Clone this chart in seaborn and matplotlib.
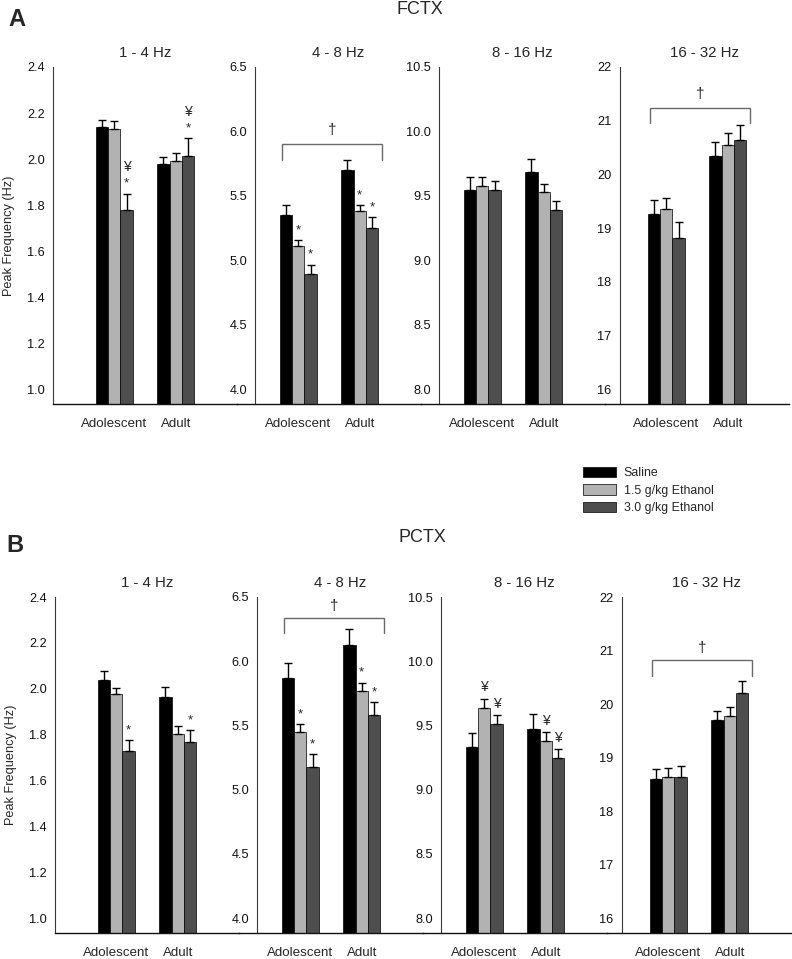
import numpy as np
import pandas as pd
import seaborn as sns
import matplotlib.pyplot as plt
from matplotlib.patches import Patch

# categories
ages = ["Adolescent", "Adult"]
groups = ["Saline", "1.5 g/kg Ethanol", "3.0 g/kg Ethanol"]
bands = ["1 - 4 Hz", "4 - 8 Hz", "8 - 16 Hz", "16 - 32 Hz"]
colors = ["#000000", "#b2b2b2", "#4e4e4e"]

# FCTX means / SEM, rows = age, cols = group
fctx_1_4_mean = [[2.14, 2.13, 1.78], [1.98, 1.99, 2.015]]
fctx_1_4_sem = [[0.03, 0.035, 0.07], [0.028, 0.038, 0.075]]
fctx_4_8_mean = [[5.35, 5.11, 4.89], [5.70, 5.38, 5.25]]
fctx_4_8_sem = [[0.078, 0.05, 0.077], [0.078, 0.05, 0.083]]
fctx_8_16_mean = [[9.545, 9.58, 9.545], [9.685, 9.53, 9.39]]
fctx_8_16_sem = [[0.10, 0.065, 0.067], [0.098, 0.065, 0.067]]
fctx_16_32_mean = [[19.27, 19.36, 18.82], [20.35, 20.55, 20.64]]
fctx_16_32_sem = [[0.256, 0.206, 0.288], [0.256, 0.224, 0.281]]

# PCTX means / SEM
pctx_1_4_mean = [[2.04, 1.977, 1.727], [1.966, 1.803, 1.769]]
pctx_1_4_sem = [[0.038, 0.027, 0.048], [0.043, 0.033, 0.05]]
pctx_4_8_mean = [[5.87, 5.45, 5.18], [6.13, 5.77, 5.58]]
pctx_4_8_sem = [[0.113, 0.062, 0.095], [0.122, 0.064, 0.105]]
pctx_8_16_mean = [[9.335, 9.637, 9.513], [9.475, 9.377, 9.247]]
pctx_8_16_sem = [[0.109, 0.073, 0.068], [0.116, 0.074, 0.07]]
pctx_16_32_mean = [[18.60, 18.635, 18.63], [19.697, 19.778, 20.215]]
pctx_16_32_sem = [[0.181, 0.163, 0.21], [0.174, 0.168, 0.225]]

# y ticks per band
yticks_1_4 = [1.0, 1.2, 1.4, 1.6, 1.8, 2.0, 2.2, 2.4]
yticks_4_8 = [4.0, 4.5, 5.0, 5.5, 6.0, 6.5]
yticks_8_16 = [8.0, 8.5, 9.0, 9.5, 10.0, 10.5]
yticks_16_32 = [16, 17, 18, 19, 20, 21, 22]
ytick_fmt = ["{:.1f}", "{:.1f}", "{:.1f}", "{:.0f}"]

# significance marks: (age index, group index, symbols bottom->top)
fctx_marks = [[(0, 2, "*¥"), (1, 2, "*¥")],
              [(0, 1, "*"), (0, 2, "*"), (1, 1, "*"), (1, 2, "*")],
              [], []]
pctx_marks = [[(0, 2, "*"), (1, 2, "*")],
              [(0, 1, "*"), (0, 2, "*"), (1, 1, "*"), (1, 2, "*")],
              [(0, 1, "¥"), (0, 2, "¥"), (1, 1, "¥"), (1, 2, "¥")],
              []]
# age-effect brackets: (bracket y, drop y, dagger y) or None
fctx_brackets = [None, (5.906, 5.782, 6.01), None, (21.23, 20.95, 21.5)]
pctx_brackets = [None, (6.34, 6.22, 6.43), None, (20.82, 20.53, 21.05)]

sns.set_style("white")
plt.rcParams["font.family"] = ["Liberation Sans", "DejaVu Sans"]

W, H = 792, 959
fig = plt.figure(figsize=(W / 100, H / 100), dpi=100)

rows = [
    dict(name="FCTX", letter="A", top=67, bottom=404, left=53,
         means=[fctx_1_4_mean, fctx_4_8_mean, fctx_8_16_mean, fctx_16_32_mean],
         sems=[fctx_1_4_sem, fctx_4_8_sem, fctx_8_16_sem, fctx_16_32_sem],
         marks=fctx_marks, brackets=fctx_brackets,
         name_xy=(420, 9), letter_xy=(17, 19)),
    dict(name="PCTX", letter="B", top=597, bottom=933, left=55,
         means=[pctx_1_4_mean, pctx_4_8_mean, pctx_8_16_mean, pctx_16_32_mean],
         sems=[pctx_1_4_sem, pctx_4_8_sem, pctx_8_16_sem, pctx_16_32_sem],
         marks=pctx_marks, brackets=pctx_brackets,
         name_xy=(422, 537), letter_xy=(15, 545)),
]
yticks_all = [yticks_1_4, yticks_4_8, yticks_8_16, yticks_16_32]
spine_pos = [-1, -0.7, -0.7, -0.76]
panel_w = 184

for row in rows:
    for k, band in enumerate(bands):
        left = row["left"] + k * panel_w
        ax = fig.add_axes([left / W, 1 - row["bottom"] / H,
                           panel_w / W, (row["bottom"] - row["top"]) / H])
        ax.patch.set_alpha(0)
        means = row["means"][k]
        sems = row["sems"][k]
        df = pd.DataFrame({
            "age": np.repeat(ages, len(groups)),
            "group": groups * len(ages),
            "freq": np.ravel(means),
        })
        sns.barplot(data=df, x="age", y="freq", hue="group", order=ages,
                    hue_order=groups, palette=colors, saturation=1, width=0.6,
                    errorbar=None, edgecolor="black", linewidth=0.5,
                    legend=False, ax=ax)

        # upper-only error bars from the seaborn bar positions
        bar_conts = list(ax.containers)
        centers = {}
        for gi, cont in enumerate(bar_conts):
            for ai, bar in enumerate(cont.patches):
                centers[(ai, gi)] = bar.get_x() + bar.get_width() / 2
        for (ai, gi), x in centers.items():
            ax.errorbar(x, means[ai][gi], yerr=[[0], [sems[ai][gi]]],
                        fmt="none", ecolor="black", elinewidth=1,
                        capsize=3, capthick=1, zorder=3)

        yt = yticks_all[k]
        pad = 0.046 * (yt[-1] - yt[0])
        ax.set_ylim(yt[0] - pad, yt[-1])
        ax.set_yticks(yt)
        ax.set_yticklabels([ytick_fmt[k].format(v) for v in yt])
        ax.set_xlim(-1, 2)
        if k == 0:
            ax.set_xticks([0, 1])
            ax.set_xticklabels(ages)
        else:
            ax.set_xticks([-1, 0, 1])
            ax.set_xticklabels([""] + ages)
        ax.set_xlabel("")
        if k == 0:
            ax.set_ylabel("Peak Frequency (Hz)", fontsize=9.2)
            ax.yaxis.set_label_coords(-0.205, 0.5)
        else:
            ax.set_ylabel("")

        for s in ["top", "right"]:
            ax.spines[s].set_visible(False)
        ax.spines["left"].set_position(("data", spine_pos[k]))
        ax.spines["left"].set_color("#3a3a3a")
        ax.spines["left"].set_linewidth(0.8)
        ax.spines["bottom"].set_color("#111111")
        ax.spines["bottom"].set_linewidth(1.0)
        ax.tick_params(axis="y", direction="out", length=4, width=0.7,
                       colors="#3a3a3a", labelcolor="#111111", labelsize=9.2, pad=2)
        ax.tick_params(axis="x", direction="out", length=4, width=0.9,
                       labelsize=9.6, pad=6)

        ax.annotate(band, xy=((spine_pos[k] + 2) / 2, 1),
                    xycoords=("data", "axes fraction"), xytext=(0, 10),
                    textcoords="offset points", ha="center", va="center",
                    fontsize=10.8)

        for ai, gi, syms in row["marks"][k]:
            top = means[ai][gi] + sems[ai][gi]
            for n, sym in enumerate(syms):
                off = 7 + 11 * n if sym == "*" else 8 + 11 * n
                ax.annotate(sym, xy=(centers[(ai, gi)], top),
                            xytext=(0, off), textcoords="offset points",
                            ha="center", va="center",
                            fontsize=9.5 if sym == "*" else 10)

        br = row["brackets"][k]
        if br is not None:
            yb, yd, ydag = br
            x0, x1 = -0.26, 1.37
            ax.plot([x0, x0, x1, x1], [yd, yb, yb, yd], color="#6a6a6a",
                    lw=1, solid_joinstyle="miter", clip_on=False)
            ax.text((x0 + x1) / 2, ydag, "\u2020", ha="center", va="center",
                    fontsize=11)

    fig.text(row["name_xy"][0] / W, 1 - row["name_xy"][1] / H, row["name"],
             ha="center", va="center", fontsize=13)
    fig.text(row["letter_xy"][0] / W, 1 - row["letter_xy"][1] / H, row["letter"],
             ha="center", va="center", fontsize=17, fontweight="bold")

handles = [Patch(facecolor=c, edgecolor="black", linewidth=0.5, label=g)
           for c, g in zip(colors, groups)]
fig.legend(handles=handles, loc="upper left",
           bbox_to_anchor=(583 / W, 1 - 467 / H), frameon=False, fontsize=8.9,
           handlelength=2.7, handleheight=0.9, labelspacing=0.4,
           handletextpad=0.6, borderpad=0, borderaxespad=0)

fig.savefig("out.png", dpi=100)
